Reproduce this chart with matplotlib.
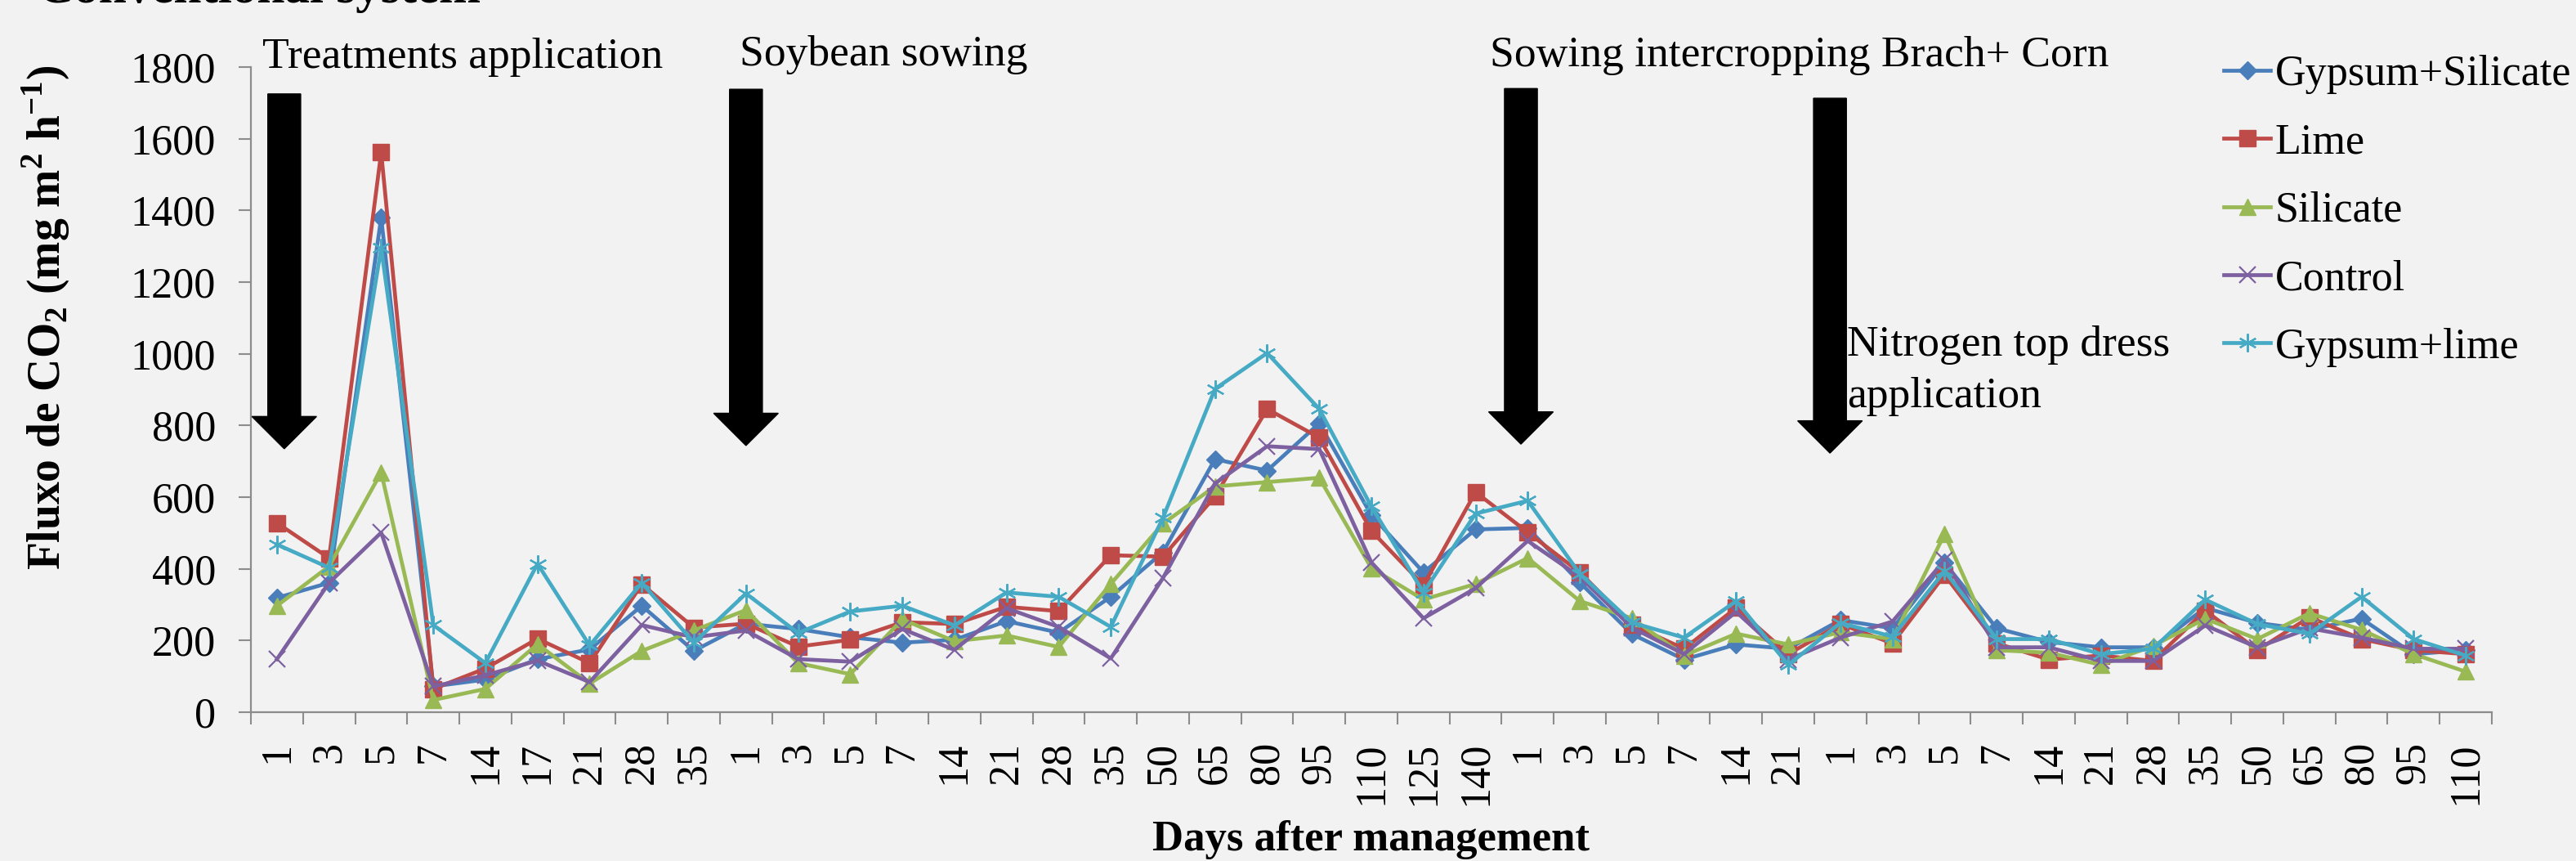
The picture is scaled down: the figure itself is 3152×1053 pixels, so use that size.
import matplotlib
matplotlib.use('Agg')
import matplotlib.pyplot as plt
import numpy as np

plt.rcParams['font.family'] = ['Liberation Serif', 'DejaVu Serif']
plt.rcParams['mathtext.fontset'] = 'custom'
plt.rcParams['mathtext.rm'] = 'Liberation Serif'
plt.rcParams['mathtext.bf'] = 'Liberation Serif:bold'

# x categories (days after each management event)
days = ['1', '3', '5', '7', '14', '17', '21', '28', '35',
        '1', '3', '5', '7', '14', '21', '28', '35', '50', '65', '80', '95', '110', '125', '140',
        '1', '3', '5', '7', '14', '21',
        '1', '3', '5', '7', '14', '21', '28', '35', '50', '65', '80', '95', '110']

gypsum_silicate = [319, 361, 1380, 72, 91, 148, 175, 297, 171,
                   247, 232, 209, 194, 202, 254, 222, 322, 446, 706, 674, 806, 550, 390, 510,
                   514, 362, 218, 147, 189, 177,
                   257, 234, 417, 234, 196, 181, 181, 291, 249, 230, 261, 162, 173]
lime = [528, 430, 1562, 65, 122, 205, 137, 357, 236,
        247, 183, 202, 251, 246, 294, 282, 438, 434, 602, 846, 766, 506, 354, 614,
        502, 390, 244, 177, 291, 162,
        246, 192, 383, 192, 147, 158, 143, 284, 173, 265, 204, 173, 162]
silicate = [297, 407, 669, 34, 65, 190, 80, 171, 228,
            285, 137, 106, 259, 198, 214, 182, 358, 526, 630, 642, 654, 402, 314, 358,
            430, 310, 262, 158, 219, 189,
            223, 204, 497, 173, 166, 132, 185, 261, 204, 276, 230, 162, 113]
control = [148, 361, 501, 72, 103, 144, 84, 243, 209,
           228, 148, 141, 232, 174, 290, 238, 150, 374, 638, 742, 734, 418, 262, 346,
           478, 378, 236, 162, 280, 147,
           208, 253, 424, 181, 181, 143, 143, 242, 181, 234, 208, 177, 177]
gypsum_lime = [468, 403, 1295, 243, 137, 414, 186, 361, 194,
               331, 221, 281, 297, 242, 334, 322, 238, 542, 902, 1002, 846, 574, 334, 554,
               590, 386, 250, 208, 310, 132,
               249, 211, 394, 204, 204, 162, 177, 314, 246, 219, 322, 204, 158]

# arrows: x position (category index), top and tip of arrow
arrow_x = [0.14, 9.0, 23.87, 29.8]
arrow_top = [1725, 1738, 1740, 1713]
arrow_tip = [735, 744, 748, 723]

bg = '#f2f2f2'
W, H = 3152, 1053
fig = plt.figure(figsize=(W / 100, H / 100), dpi=100, facecolor=bg)
ax = fig.add_axes([307 / W, 1 - 871 / H, (3049 - 307) / W, (871 - 82) / H])
ax.set_facecolor(bg)

x = np.arange(len(days))
styles = [
    ('Gypsum+Silicate', gypsum_silicate, '#4a7ebb', 'D', 11, 1),
    ('Lime', lime, '#be4b48', 's', 14, 1),
    ('Silicate', silicate, '#98b954', '^', 15, 1),
    ('Control', control, '#7d60a0', 'x', 14, 1.6),
    ('Gypsum+lime', gypsum_lime, '#46aac5', (6, 2, 0), 16, 1.6),
]
for name, vals, col, mk, ms, mew in styles:
    ax.plot(x, vals, color=col, lw=3.4, marker=mk, ms=ms, mew=mew,
            mec=col, mfc=col, label=name)

ax.set_xlim(-0.5, len(days) - 0.5)
ax.set_ylim(0, 1800)
ax.set_yticks(np.arange(0, 1801, 200))
ax.set_xticks(x)
ax.set_xticklabels(days, rotation=90)
ax.set_xticks(np.arange(-0.5, len(days), 1), minor=True)
ax.tick_params(axis='x', which='major', length=0, pad=26, labelsize=37.5)
ax.tick_params(axis='x', which='minor', length=11, width=1.5, color='#8c8c8c')
ax.tick_params(axis='y', length=11, width=1.5, color='#8c8c8c', pad=20, labelsize=37.5)
for s in ['top', 'right']:
    ax.spines[s].set_visible(False)
for s in ['left', 'bottom']:
    ax.spines[s].set_color('#8c8c8c')
    ax.spines[s].set_linewidth(1.6)

for ax_x, top, tip in zip(arrow_x, arrow_top, arrow_tip):
    ax.arrow(ax_x, top, 0, tip - top, width=0.63, head_width=1.24, head_length=90,
             length_includes_head=True, color='black', clip_on=False, zorder=5)

fs = 38.5
fig.text(321 / W, 1 - 83 / H, 'Treatments application', fontsize=fs, va='baseline')
fig.text(905 / W, 1 - 80 / H, 'Soybean sowing', fontsize=fs, va='baseline')
fig.text(1823 / W, 1 - 81 / H, 'Sowing intercropping Brach+ Corn', fontsize=fs, va='baseline')
fig.text(2260 / W, 1 - 435 / H, 'Nitrogen top dress', fontsize=fs, va='baseline')
fig.text(2260 / W, 1 - 498 / H, 'application', fontsize=fs, va='baseline')

fig.text(46 / W, 1 - 3 / H, 'Conventional system', fontsize=44, fontweight='bold', va='baseline')
fig.text(56 / W, 1 - 388 / H, r'Fluxo de CO$_\mathbf{2}$ (mg m$^\mathbf{2}$ h$^\mathbf{-1}$)',
         fontsize=40, fontweight='bold', rotation=90, ha='center', va='center')
fig.text(1677 / W, 1 - 1040 / H, 'Days after management', fontsize=38, fontweight='bold',
         ha='center', va='baseline')

fig.legend(loc='upper left', bbox_to_anchor=(2721 / W, 1 - 67 / H), bbox_transform=fig.transFigure,
           frameon=False, borderpad=0, borderaxespad=0, handlelength=1.1, handletextpad=0.1,
           labelspacing=0.68, fontsize=37.5, numpoints=1)

fig.savefig('out.png', dpi=100, facecolor=bg)
